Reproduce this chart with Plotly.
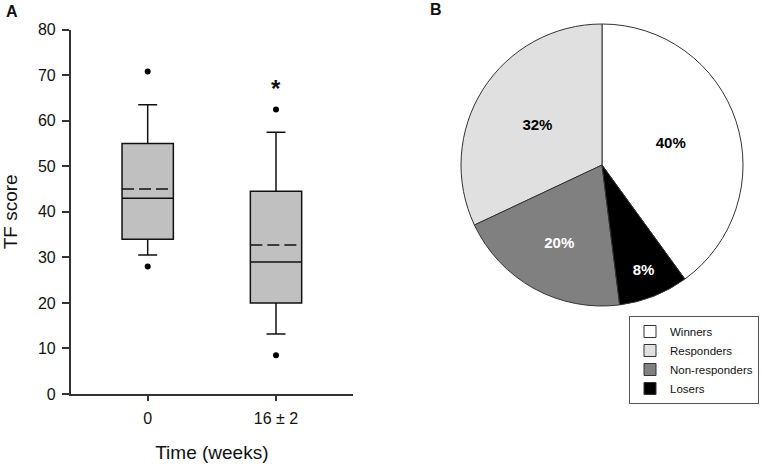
import plotly.graph_objects as go

# ---- Data (panel A: box plot) ----
categories = ["0", "16 ± 2"]
q1 = [34.0, 20.0]
median = [43.0, 29.0]
q3 = [55.0, 44.5]
lower_whisker = [30.5, 13.2]
upper_whisker = [63.5, 57.5]
means = [45.0, 32.7]
outlier_x = ["0", "0", "16 ± 2", "16 ± 2"]
outlier_y = [28.0, 70.8, 8.5, 62.5]
y_ticks = [0, 10, 20, 30, 40, 50, 60, 70, 80]

# ---- Data (panel B: pie) ----
pie_labels = ["Winners", "Responders", "Non-responders", "Losers"]
pie_values = [40, 32, 20, 8]
pie_colors = ["#ffffff", "#e0e0e0", "#808080", "#000000"]
pie_text_colors = ["#000000", "#000000", "#ffffff", "#ffffff"]

FONT = "Liberation Sans, Arial, sans-serif"
W, H = 768, 466
BOX_W = 0.4

fig = go.Figure()

fig.add_trace(go.Box(
    x=categories, q1=q1, median=median, q3=q3,
    lowerfence=lower_whisker, upperfence=upper_whisker,
    width=BOX_W, whiskerwidth=0.37,
    fillcolor="#c0c0c0", line=dict(color="#111111", width=1.5),
    showlegend=False, hoverinfo="skip", xaxis="x", yaxis="y",
))

fig.add_trace(go.Scatter(
    x=outlier_x, y=outlier_y, mode="markers",
    marker=dict(color="#000000", size=6),
    showlegend=False, hoverinfo="skip", xaxis="x", yaxis="y",
))

fig.add_trace(go.Pie(
    labels=pie_labels, values=pie_values, sort=False,
    direction="counterclockwise", rotation=0,
    marker=dict(colors=pie_colors, line=dict(color="#333333", width=1)),
    texttemplate="%{percent:.0%}", textposition="inside",
    insidetextorientation="horizontal",
    textfont=dict(family=FONT, size=15, color=pie_text_colors, weight="bold"),
    domain=dict(x=[461 / W, 743 / W], y=[(H - 306) / H, (H - 24) / H]),
    hoverinfo="skip",
))

# dashed mean lines across each box
for i, m in enumerate(means):
    fig.add_shape(type="line", xref="x", yref="y",
                  x0=i - BOX_W / 2, x1=i + BOX_W / 2, y0=m, y1=m,
                  line=dict(color="#111111", width=1.5, dash="12px,5px"))

fig.update_layout(
    width=W, height=H,
    margin=dict(l=0, r=0, t=0, b=0, autoexpand=False),
    paper_bgcolor="white", plot_bgcolor="white",
    font=dict(family=FONT, color="#111111"),
    xaxis=dict(
        domain=[70.7 / W, 353 / W], type="category", range=[-0.6, 1.6],
        showline=True, linecolor="#333333", linewidth=1.5,
        ticks="outside", ticklen=5, tickcolor="#333333", tickwidth=1.5,
        showgrid=False, zeroline=False, ticklabelstandoff=4,
        tickfont=dict(size=16, color="#111111"),
        title=dict(text="Time (weeks)", font=dict(size=19, color="#111111"), standoff=20),
    ),
    yaxis=dict(
        domain=[(H - 394) / H, (H - 29.7) / H], range=[0, 80],
        tickvals=y_ticks,
        showline=True, linecolor="#333333", linewidth=1.5,
        ticks="outside", ticklen=7, tickcolor="#333333", tickwidth=1.5,
        showgrid=False, zeroline=False, ticklabelstandoff=3,
        tickfont=dict(size=16, color="#111111"),
        title=dict(text="TF score", font=dict(size=19, color="#111111"), standoff=17),
    ),
    legend=dict(
        x=629 / W, y=(H - 316) / H, xanchor="left", yanchor="top",
        bordercolor="#555555", borderwidth=1, bgcolor="white",
        font=dict(size=11.5, color="#111111"), itemwidth=30,
    ),
    annotations=[
        dict(text="<b>A</b>", x=11.5 / W, y=(H - 11.5) / H, xref="paper", yref="paper",
             showarrow=False, font=dict(size=16, color="#111111"), xanchor="center", yanchor="middle"),
        dict(text="<b>B</b>", x=436 / W, y=(H - 10) / H, xref="paper", yref="paper",
             showarrow=False, font=dict(size=16, color="#111111"), xanchor="center", yanchor="middle"),
        dict(text="<b>*</b>", x=categories[1], y=67.1, xref="x", yref="y",
             showarrow=False, font=dict(size=24, color="#111111"), xanchor="center", yanchor="middle"),
    ],
)

fig.write_html("out.html", config={"displayModeBar": False},
               post_script="document.body.style.margin='0';")
